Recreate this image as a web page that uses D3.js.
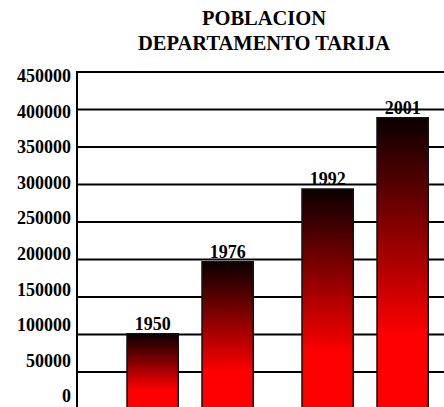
<!DOCTYPE html>
<html>
<head>
<meta charset="utf-8">
<script src="https://cdn.jsdelivr.net/npm/d3@7"></script>
<style>
  html, body { margin: 0; padding: 0; background: #fff; }
  svg { display: block; }
  text { font-family: "Liberation Serif", "Times New Roman", serif; font-weight: bold; fill: #000; }
</style>
</head>
<body>
<div class="main-container"></div>
<script>
// data
const years = ["1950", "1976", "1992", "2001"];
const population = [101000, 197000, 294000, 389000];
const yTicks = [0, 50000, 100000, 150000, 200000, 250000, 300000, 350000, 400000, 450000];
const titleLines = ["POBLACION", "DEPARTAMENTO TARIJA"];

// layout: bar start in slot units along the category axis
const barSlot = [2, 5, 9, 12];

const W = 444, H = 407;
const svg = d3.select(".main-container").append("svg").attr("width", W).attr("height", H);

const defs = svg.append("defs");
const grad = defs.append("linearGradient").attr("id", "barGrad")
  .attr("x1", 0).attr("y1", 0).attr("x2", 0).attr("y2", 1);
grad.append("stop").attr("offset", "0%").attr("stop-color", "#0a0000");
grad.append("stop").attr("offset", "75%").attr("stop-color", "#ff0000");
grad.append("stop").attr("offset", "100%").attr("stop-color", "#ff0000");

const LEFT = 77, TOP = 72, ZERO = 409.5;
const x = d3.scaleLinear().domain([0, 15]).range([LEFT, 452]);
const y = d3.scaleLinear().domain([0, 450000]).range([ZERO, TOP]);
// tick labels sit on a slightly tighter ladder than the grid in the original
const yLab = d3.scaleLinear().domain([0, 450000]).range([396, 76]);

// title
svg.append("g").selectAll("text").data(titleLines).join("text")
  .attr("x", 264).attr("y", (d, i) => 25 + i * 25)
  .attr("text-anchor", "middle").style("font-size", "20.5px")
  .text(d => d);

// grid
svg.append("g").selectAll("line").data(yTicks).join("line")
  .attr("x1", LEFT).attr("x2", W)
  .attr("y1", d => y(d)).attr("y2", d => y(d))
  .attr("stroke", "#000").attr("stroke-width", 2);

// y labels
const axis = svg.append("g").attr("transform", `translate(${LEFT - 6},0)`)
  .call(d3.axisLeft(yLab).tickValues(yTicks).tickSize(0).tickPadding(0).tickFormat(d3.format("d")));
axis.select(".domain").remove();
axis.selectAll("text").style("font-size", "18px").attr("font-family", null);

// left axis line
svg.append("line").attr("x1", LEFT).attr("x2", LEFT).attr("y1", TOP - 1).attr("y2", H)
  .attr("stroke", "#000").attr("stroke-width", 2);

// bars
const bars = svg.append("g");
bars.selectAll("rect").data(years).join("rect")
  .attr("x", (d, i) => x(barSlot[i]))
  .attr("width", x(2.05) - x(0))
  .attr("y", (d, i) => y(population[i]))
  .attr("height", (d, i) => y(0) - y(population[i]))
  .attr("fill", "url(#barGrad)")
  .attr("stroke", "#111").attr("stroke-width", 1.5);

bars.selectAll("text").data(years).join("text")
  .attr("x", (d, i) => x(barSlot[i] + 1.03))
  .attr("y", (d, i) => y(population[i]) - 4)
  .attr("text-anchor", "middle").style("font-size", "18px")
  .text(d => d);
</script>
</body>
</html>
